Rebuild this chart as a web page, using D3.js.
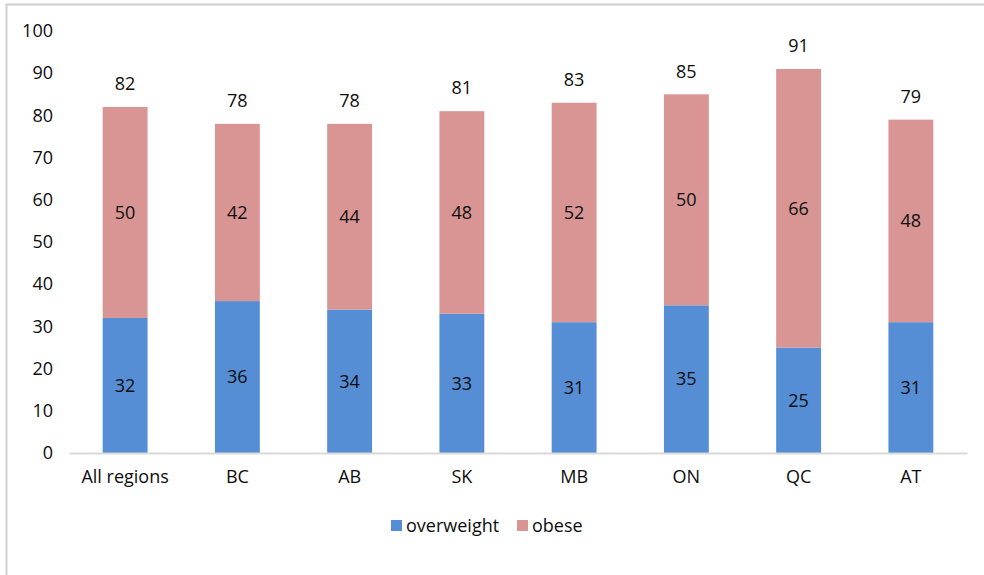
<!doctype html>
<meta charset="utf-8">
<style>
  body { margin: 0; background: #fff; }
  svg text { font-family: "Open Sans", sans-serif; fill: #0d0d0d; }
  .tick text { font-size: 18px; }
</style>
<svg id="chart" width="984" height="575"></svg>
<script src="https://d3js.org/d3.v7.min.js"></script>
<script>
  const regions = ["All regions", "BC", "AB", "SK", "MB", "ON", "QC", "AT"];
  const overweight = [32, 36, 34, 33, 31, 35, 25, 31];
  const obese = [50, 42, 44, 48, 52, 50, 66, 48];
  const totals = [82, 78, 78, 81, 83, 85, 91, 79];
  const yTicks = [0, 10, 20, 30, 40, 50, 60, 70, 80, 90, 100];
  const seriesNames = ["overweight", "obese"];
  const colours = ["#558ed5", "#d99594"];

  let svg = d3.select("#chart");

  // outer frame
  svg.append("rect")
    .attr("x", 6.5).attr("y", 4.5)
    .attr("width", 1000).attr("height", 600)
    .attr("fill", "none").attr("stroke", "#d0d0d0").attr("stroke-width", 2);

  let x = d3.scaleBand().domain(regions).range([69, 967]).paddingInner(0.6).paddingOuter(0.3);
  let y = d3.scaleLinear().domain([0, 100]).range([453, 31]);

  let rows = regions.map((r, i) => ({ region: r, overweight: overweight[i], obese: obese[i], total: totals[i] }));
  let stacked = d3.stack().keys(seriesNames)(rows);

  // bars
  let groups = svg.selectAll("g.series")
    .data(stacked)
    .enter().append("g")
    .attr("class", "series")
    .attr("fill", (d, i) => colours[i]);

  groups.selectAll("rect")
    .data(d => d)
    .enter().append("rect")
    .attr("x", d => x(d.data.region))
    .attr("width", x.bandwidth())
    .attr("y", d => y(d[1]))
    .attr("height", d => y(d[0]) - y(d[1]));

  // segment labels
  groups.selectAll("text")
    .data((d, i) => d.map(v => ({ v: v, key: seriesNames[i] })))
    .enter().append("text")
    .attr("x", d => x(d.v.data.region) + x.bandwidth() / 2)
    .attr("y", d => y((d.v[0] + d.v[1]) / 2))
    .attr("dy", "0.35em")
    .attr("text-anchor", "middle")
    .style("font-size", "18px")
    .text(d => d.v.data[d.key]);

  // total labels
  svg.selectAll("text.total")
    .data(rows)
    .enter().append("text")
    .attr("class", "total")
    .attr("x", d => x(d.region) + x.bandwidth() / 2)
    .attr("y", d => y(d.total) - 23)
    .attr("dy", "0.35em")
    .attr("text-anchor", "middle")
    .style("font-size", "18px")
    .text(d => d.total);

  // y axis
  let yAxis = svg.append("g")
    .attr("transform", "translate(53,0)")
    .call(d3.axisLeft(y).tickValues(yTicks).tickSize(0).tickPadding(0));
  yAxis.select(".domain").remove();

  // x axis
  let xAxis = svg.append("g")
    .attr("transform", "translate(0,453)")
    .call(d3.axisBottom(x).tickSize(0).tickPadding(17));
  xAxis.select(".domain").attr("stroke", "#d9d9d9").attr("stroke-width", 2);

  // legend
  let legendItems = [
    { name: seriesNames[0], colour: colours[0], x: 391 },
    { name: seriesNames[1], colour: colours[1], x: 517 }
  ];
  let legend = svg.selectAll("g.legend")
    .data(legendItems)
    .enter().append("g")
    .attr("class", "legend")
    .attr("transform", d => `translate(${d.x},520)`);
  legend.append("rect").attr("width", 11).attr("height", 11).attr("fill", d => d.colour);
  legend.append("text")
    .attr("x", 15).attr("y", 5.5).attr("dy", "0.35em")
    .style("font-size", "18px")
    .text(d => d.name);
</script>
